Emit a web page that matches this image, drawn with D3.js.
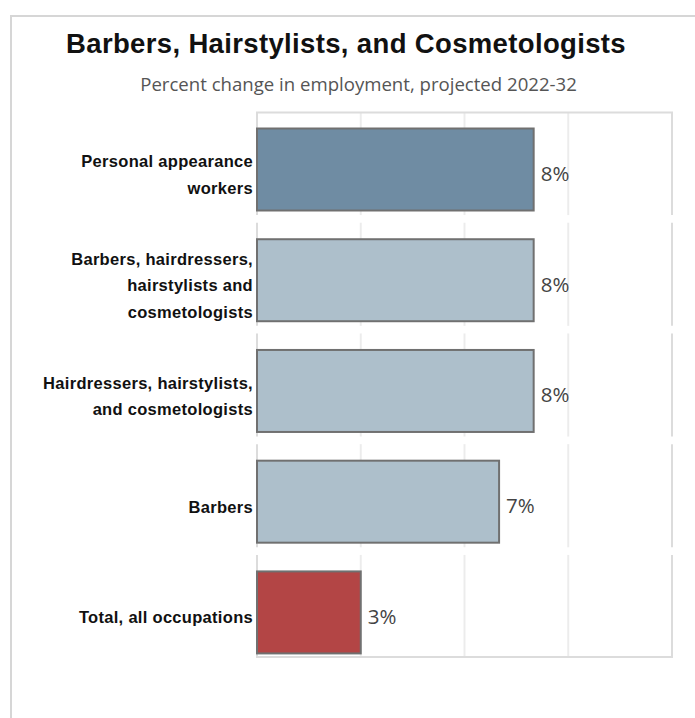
<!DOCTYPE html>
<html>
<head>
<meta charset="utf-8">
<script src="https://cdn.jsdelivr.net/npm/d3@7"></script>
<style>
  body { margin: 0; background: #fff; }
</style>
</head>
<body>
<div id="chart"></div>
<script>
// data
const categories = [
  'Personal appearance\nworkers',
  'Barbers, hairdressers,\nhairstylists and\ncosmetologists',
  'Hairdressers, hairstylists,\nand cosmetologists',
  'Barbers',
  'Total, all occupations'
]
const values = [8, 8, 8, 7, 3]
const barColors = ['#6f8ca3', '#adbfcb', '#adbfcb', '#adbfcb', '#b34545']
const gridTicks = [0, 3, 6, 9, 12]

const title = 'Barbers, Hairstylists, and Cosmetologists'
const subtitle = 'Percent change in employment, projected 2022-32'

const width = 695
const height = 718

const svg = d3.select('#chart').append('svg')
  .attr('width', width)
  .attr('height', height)

// outer frame (only top and left edges fall inside the window)
svg.append('path')
  .attr('d', `M11,${height} V16 H${width}`)
  .attr('fill', 'none')
  .attr('stroke', '#d6d6d6')
  .attr('stroke-width', 2)

svg.append('text')
  .attr('x', 346)
  .attr('y', 53)
  .attr('text-anchor', 'middle')
  .style('font-family', '"Liberation Sans", Arial, sans-serif')
  .style('font-weight', 'bold')
  .style('font-size', '27.5px')
  .style('letter-spacing', '0.35px')
  .attr('fill', '#111')
  .text(title)

svg.append('text')
  .attr('x', 358.5)
  .attr('y', 91)
  .attr('text-anchor', 'middle')
  .style('font-family', '"Open Sans", sans-serif')
  .style('font-size', '18.6px')
  .attr('fill', '#555')
  .text(subtitle)

const x = d3.scaleLinear().domain([0, 12]).range([257, 672])
const y = d3.scaleBand().domain(categories).range([112, 659]).paddingInner(0.06)

const barTop = 16.5
const barH = 82

// one pane per row, each with its own grid segments
const pane = svg.selectAll('.pane')
  .data(categories)
  .enter()
  .append('g')
  .attr('class', 'pane')
  .attr('transform', d => `translate(0,${y(d)})`)

pane.selectAll('line')
  .data(gridTicks)
  .enter()
  .append('line')
  .attr('x1', d => x(d))
  .attr('x2', d => x(d))
  .attr('y1', 0)
  .attr('y2', y.bandwidth() - 1)
  .attr('stroke', (d, i) => (i == 0 || i == gridTicks.length - 1) ? '#dcdcdc' : '#ececec')
  .attr('stroke-width', 2)

// top and bottom edges of the plot
svg.append('line')
  .attr('x1', x(0) - 1).attr('x2', x(12) + 1)
  .attr('y1', y(categories[0]) + 0.5).attr('y2', y(categories[0]) + 0.5)
  .attr('stroke', '#dcdcdc').attr('stroke-width', 2)

const last = categories[categories.length - 1]
svg.append('line')
  .attr('x1', x(0) - 1).attr('x2', x(12) + 1)
  .attr('y1', y(last) + y.bandwidth() - 2).attr('y2', y(last) + y.bandwidth() - 2)
  .attr('stroke', '#dcdcdc').attr('stroke-width', 2)

const rows = categories.map((c, i) => ({ cat: c, value: values[i], color: barColors[i] }))

svg.selectAll('.bar')
  .data(rows)
  .enter()
  .append('rect')
  .attr('class', 'bar')
  .attr('x', x(0))
  .attr('y', d => y(d.cat) + barTop)
  .attr('width', d => x(d.value) - x(0))
  .attr('height', barH)
  .attr('fill', d => d.color)
  .attr('stroke', '#707070')
  .attr('stroke-width', 2)

svg.selectAll('.val')
  .data(rows)
  .enter()
  .append('text')
  .attr('class', 'val')
  .attr('x', d => x(d.value) + 7)
  .attr('y', d => y(d.cat) + barTop + barH / 2 + 11.5)
  .style('font-family', '"Open Sans", sans-serif')
  .style('font-size', '20.5px')
  .attr('fill', '#444')
  .text(d => d.value + '%')

// category labels, right aligned, wrapped as in the original
const lineH = 26.5
const lab = svg.selectAll('.lab')
  .data(rows)
  .enter()
  .append('text')
  .attr('class', 'lab')
  .attr('text-anchor', 'end')
  .style('font-family', '"Liberation Sans", Arial, sans-serif')
  .style('font-weight', 'bold')
  .style('font-size', '16.5px')
  .style('letter-spacing', '0.3px')
  .attr('fill', '#111')

lab.each(function (d) {
  const lines = d.cat.split('\n')
  const mid = y(d.cat) + barTop + barH / 2 + 11
  d3.select(this).selectAll('tspan')
    .data(lines)
    .enter()
    .append('tspan')
    .attr('x', 253)
    .attr('y', (t, i) => mid + (i - (lines.length - 1) / 2) * lineH)
    .text(t => t)
})
</script>
</body>
</html>
